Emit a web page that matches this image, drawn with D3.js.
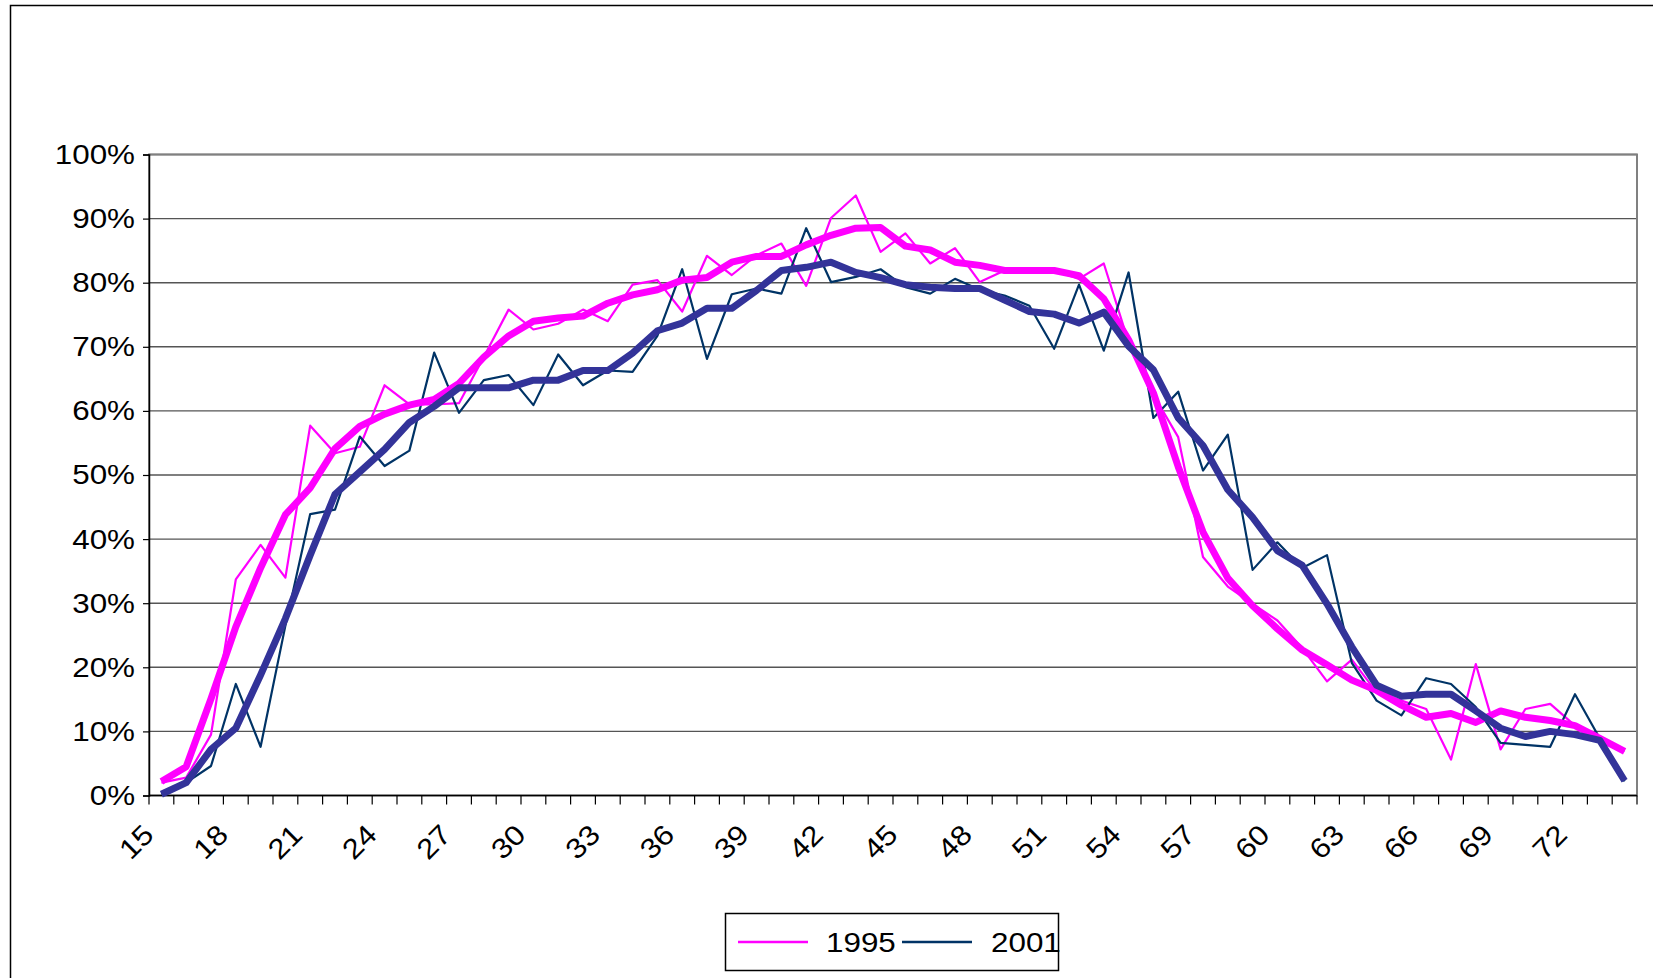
<!DOCTYPE html>
<html>
<head>
<meta charset="utf-8">
<script src="https://cdn.jsdelivr.net/npm/d3@7"></script>
<style>
  html, body { margin: 0; padding: 0; background: #fff; }
  svg { display: block; }
  text { font-family: "Liberation Sans", Arial, sans-serif; fill: #000; }
</style>
</head>
<body>
<svg id="chart" width="1653" height="978"></svg>
<script>
// ---- Data (percent) ----
const ages = [15,16,17,18,19,20,21,22,23,24,25,26,27,28,29,30,31,32,33,34,35,36,37,38,39,40,41,42,43,44,
              45,46,47,48,49,50,51,52,53,54,55,56,57,58,59,60,61,62,63,64,65,66,67,68,69,70,71,72,73,74];

const raw1995 = [2.0,2.8,9.5,33.7,39.1,34.0,57.7,53.4,54.4,64.0,61.0,61.0,61.2,68.4,75.8,72.7,73.6,75.8,74.0,79.7,
                 80.4,75.5,84.2,81.2,84.3,86.1,79.5,90.1,93.6,84.8,87.7,83.0,85.4,80.1,81.9,81.9,81.9,80.6,83.0,70.7,
                 62.5,55.9,37.2,32.6,29.9,27.3,23.0,17.8,21.2,16.1,14.8,13.5,5.6,20.5,7.2,13.5,14.3,10.9,8.9,6.9];

const raw2001 = [0.2,2.0,4.6,17.4,7.6,26.5,43.9,44.6,56.0,51.4,53.8,69.1,59.7,64.8,65.6,60.9,68.8,64.0,66.3,66.1,
                 71.7,82.1,68.1,78.2,79.1,78.3,88.5,80.1,80.9,82.1,79.3,78.3,80.6,78.9,78.0,76.4,69.7,79.7,69.4,81.6,
                 58.9,63.0,50.7,56.3,35.2,39.5,35.5,37.5,20.7,14.8,12.5,18.3,17.4,13.8,8.2,7.9,7.6,15.8,8.9,2.2];

const smooth1995 = [2.2,4.5,15.1,26.3,35.5,43.8,48.0,54.1,57.6,59.5,60.9,61.8,64.3,68.4,71.7,74.0,74.5,74.8,76.8,78.1,
                    78.9,80.4,80.8,83.2,84.1,84.1,85.9,87.4,88.5,88.6,85.7,85.1,83.2,82.7,81.9,81.9,81.9,81.1,77.5,71.1,
                    62.8,51.3,41.1,33.9,29.6,26.0,22.7,20.4,18.0,16.4,14.1,12.2,12.8,11.4,13.2,12.2,11.7,10.9,8.9,6.9];

const smooth2001 = [0.2,2.0,7.2,10.5,18.8,27.6,37.5,47.0,50.5,54.0,58.2,60.7,63.6,63.6,63.6,64.8,64.8,66.3,66.3,69.0,
                    72.5,73.7,76.0,76.0,78.8,81.9,82.4,83.2,81.6,80.8,79.7,79.3,79.1,79.1,77.3,75.5,75.1,73.7,75.4,70.1,
                    66.4,58.9,54.6,47.7,43.4,38.2,35.9,29.9,23.2,17.2,15.5,15.8,15.8,13.2,10.5,9.2,10.0,9.5,8.6,2.3];

const xTickLabels = [15,18,21,24,27,30,33,36,39,42,45,48,51,54,57,60,63,66,69,72];
const yTickValues = [0,10,20,30,40,50,60,70,80,90,100];
const legendLabels = ["1995", "2001"];

// ---- Layout ----
const plot = { left: 149, right: 1637, top: 154.5, bottom: 795.5 };
const svg = d3.select("#chart");
const STRETCH = 1.12;
function stretch(sel) {
  sel.each(function () {
    const w = this.getComputedTextLength();
    this.setAttribute("textLength", w * STRETCH);
    this.setAttribute("lengthAdjust", "spacingAndGlyphs");
  });
}

// chart area border
svg.append("rect")
  .attr("x", 10.5).attr("y", 5.5)
  .attr("width", 1700).attr("height", 1000)
  .attr("fill", "#fff").attr("stroke", "#000").attr("stroke-width", 1.5);

const x = d3.scaleBand().domain(ages).range([plot.left, plot.right]).padding(0);
const cx = a => x(a) + x.bandwidth() / 2;
const y = d3.scaleLinear().domain([0, 100]).range([plot.bottom, plot.top]);

// gridlines
svg.append("g").selectAll("line")
  .data(yTickValues.filter(v => v > 0))
  .join("line")
  .attr("x1", plot.left).attr("x2", plot.right)
  .attr("y1", d => y(d)).attr("y2", d => y(d))
  .attr("stroke", "#555").attr("stroke-width", 1.4);

// plot border (gray)
svg.append("rect")
  .attr("x", plot.left).attr("y", plot.top)
  .attr("width", plot.right - plot.left).attr("height", plot.bottom - plot.top)
  .attr("fill", "none").attr("stroke", "#808080").attr("stroke-width", 2);

// y axis
const yAxis = svg.append("g")
  .attr("transform", `translate(${plot.left},0)`)
  .call(d3.axisLeft(y).tickValues(yTickValues).tickFormat(d => d + "%").tickSize(6).tickPadding(8));
yAxis.select(".domain").attr("stroke", "#000").attr("stroke-width", 1.5);
yAxis.selectAll(".tick line").attr("stroke", "#000").attr("stroke-width", 1.2);
yAxis.selectAll("text").attr("font-size", 28).attr("font-family", '"Liberation Sans", Arial, sans-serif').attr("fill", "#000").call(stretch);

// x axis line + category boundary ticks
svg.append("line")
  .attr("x1", plot.left).attr("x2", plot.right)
  .attr("y1", plot.bottom).attr("y2", plot.bottom)
  .attr("stroke", "#000").attr("stroke-width", 1.5);
const edges = ages.map(a => x(a)).concat([x(ages[ages.length - 1]) + x.bandwidth()]);
svg.append("g").selectAll("line")
  .data(edges)
  .join("line")
  .attr("x1", d => d).attr("x2", d => d)
  .attr("y1", plot.bottom).attr("y2", plot.bottom + 9)
  .attr("stroke", "#000").attr("stroke-width", 1.2);

// x tick labels rotated
svg.append("g").selectAll("text")
  .data(xTickLabels)
  .join("text")
  .attr("transform", d => `translate(${cx(d) - 13},${plot.bottom + 34}) rotate(-45)`)
  .attr("text-anchor", "end")
  .attr("dy", "0.35em")
  .attr("font-size", 28)
  .text(d => d)
  .call(stretch);

// lines
const line = d3.line().x((d, i) => cx(ages[i])).y(d => y(d));
const series = [
  { data: raw1995, color: "#FF00FF", width: 2.2 },
  { data: raw2001, color: "#003366", width: 2.2 },
  { data: smooth1995, color: "#FF00FF", width: 7 },
  { data: smooth2001, color: "#333399", width: 7 }
];
svg.append("g").selectAll("path")
  .data(series)
  .join("path")
  .attr("d", d => line(d.data))
  .attr("fill", "none")
  .attr("stroke", d => d.color)
  .attr("stroke-width", d => d.width)
  .attr("stroke-linejoin", "round");

// legend
const lg = svg.append("g");
lg.append("rect")
  .attr("x", 725.5).attr("y", 913.5).attr("width", 333).attr("height", 57)
  .attr("fill", "#fff").attr("stroke", "#000").attr("stroke-width", 1.5);
const legendItems = [
  { label: legendLabels[0], color: "#FF00FF", x1: 738, x2: 808, tx: 826 },
  { label: legendLabels[1], color: "#003366", x1: 902, x2: 972, tx: 991 }
];
legendItems.forEach(it => {
  lg.append("line").attr("x1", it.x1).attr("x2", it.x2).attr("y1", 942).attr("y2", 942)
    .attr("stroke", it.color).attr("stroke-width", 2.6);
  lg.append("text").attr("x", it.tx).attr("y", 951.5).attr("font-size", 28).text(it.label).call(stretch);
});
</script>
</body>
</html>
